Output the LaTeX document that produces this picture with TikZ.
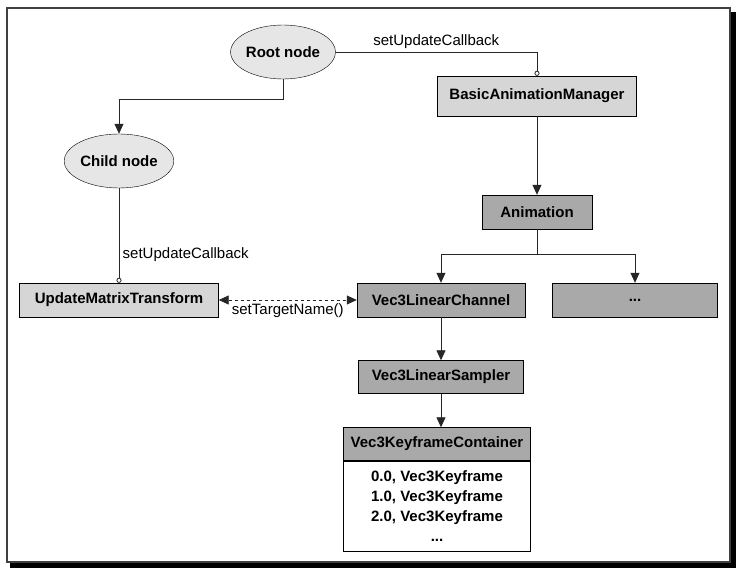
\documentclass[tikz,border=0pt]{standalone}
\usepackage{fontspec}
\setmainfont{Liberation Sans}
\usetikzlibrary{positioning,shapes.geometric,arrows.meta}

\definecolor{ovalfill}{HTML}{E6E6E6}
\definecolor{lightbox}{HTML}{D6D6D6}
\definecolor{darkbox}{HTML}{A9A9A9}

\begin{document}
\begin{tikzpicture}[x=1pt, y=-1pt, font=\fontsize{15}{18}\selectfont,
	oval/.style={ellipse, draw, fill=ovalfill, font=\fontsize{15}{18}\selectfont\bfseries, minimum width=104pt, minimum height=54pt, inner sep=0pt},
	lightnode/.style={rectangle, draw, fill=lightbox, font=\fontsize{15}{18}\selectfont\bfseries, minimum height=34pt, inner sep=0pt},
	darknode/.style={lightnode, fill=darkbox},
	link/.style={draw=black!85, line width=0.8pt},
	>={Triangle[length=10pt,width=9pt]}]
	\useasboundingbox (0,0) rectangle (742,572);
	% frame with shadow
	\fill[black] (730,12) rectangle (736,568);
	\fill[black] (10,562) rectangle (736,568);
	\draw[black!75, line width=1.5pt] (7,8) rectangle (730,562);

	\node[oval] (root) at (283,52) {Root node};
	\node[oval] (child) at (119,161) {Child node};
	\node[lightnode, minimum width=199pt, minimum height=40pt] (manager) at (537,96) {BasicAnimationManager};
	\node[darknode, minimum width=110pt] (anim) [below of=manager, node distance=116pt] {Animation};
	\node[darknode, minimum width=168pt] (channel) at (441,300) {Vec3LinearChannel};
	\node[darknode, minimum width=165pt] (others) [right of=channel, node distance=194pt] {...};
	\node[lightnode, minimum width=199pt] (transform) at (119,300) {UpdateMatrixTransform};
	\node[darknode, minimum width=165pt, minimum height=33pt] (sampler) [below of=channel, node distance=77pt] {Vec3LinearSampler};
	\node[darknode, minimum width=187pt, minimum height=33pt] (container) at (437,444) {Vec3KeyframeContainer};
	\node[draw, fill=white, minimum width=187pt, minimum height=90pt, anchor=north, align=center,
		font=\fontsize{15}{20}\selectfont\bfseries] (frames) at (container.south)
		{0.0, Vec3Keyframe\\1.0, Vec3Keyframe\\2.0, Vec3Keyframe\\...};

	\draw[link, -{Circle[open,length=5pt]}] (root.east) -| (manager.north) node[pos=0.25, above] {setUpdateCallback};
	\draw[link, ->] (root.south) -- ++(0,20) -| (child.north);
	\draw[link, -{Circle[open,length=5pt]}] (child.south) -- (transform.north) node[pos=0.7, right] {setUpdateCallback};
	\draw[link, ->] (manager.south) -- (anim.north);
	\draw[link, ->] (anim.south) -- ++(0,25) -| (channel.north);
	\draw[link, ->] (anim.south) -- ++(0,25) -| (others.north);
	\draw[link, dashed, <->] (transform.east) -- (channel.west) node[midway, below] {setTargetName()};
	\draw[link, ->] (channel.south) -- (sampler.north);
	\draw[link, ->] (sampler.south) -- (sampler.south |- container.north);
\end{tikzpicture}
\end{document}
